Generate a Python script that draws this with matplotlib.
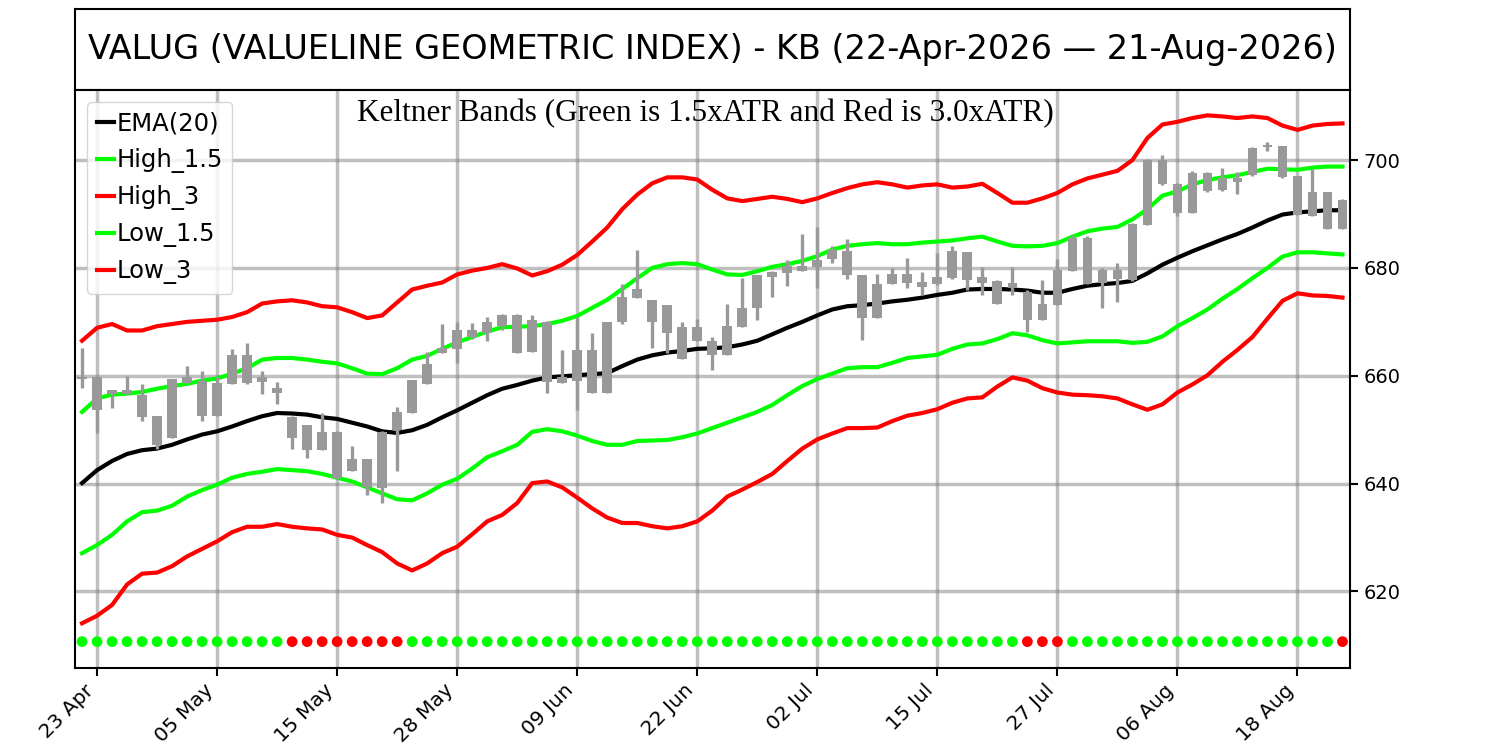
import matplotlib
matplotlib.use("Agg")
import matplotlib.pyplot as plt
import numpy as np
import pandas as pd
from matplotlib.ticker import MultipleLocator

# ---------------- data ----------------
dates = pd.bdate_range("2026-04-22", "2026-08-21", freq="C",
                       holidays=["2026-05-25", "2026-06-19", "2026-07-03"])

ema20 = [640.1, 642.5, 644.2, 645.5, 646.2, 646.5, 647.2, 648.2, 649.1, 649.7,
         650.6, 651.6, 652.5, 653.1, 653.0, 652.8, 652.3, 652.0, 651.3, 650.6,
         649.7, 649.4, 649.9, 650.9, 652.3, 653.6, 655.0, 656.4, 657.6, 658.3,
         659.1, 659.7, 659.9, 660.1, 660.3, 660.5, 661.8, 663.0, 663.8, 664.3,
         664.6, 665.0, 665.1, 665.3, 665.8, 666.5, 667.7, 668.9, 670.0, 671.2,
         672.3, 672.9, 673.1, 673.4, 673.8, 674.1, 674.5, 675.0, 675.4, 676.0,
         676.1, 676.1, 676.0, 675.8, 675.4, 675.4, 676.1, 676.7, 677.0, 677.2,
         677.6, 679.0, 680.6, 681.9, 683.1, 684.2, 685.3, 686.3, 687.5, 688.8,
         689.9, 690.3, 690.5, 690.7, 690.7]

high_15 = [653.3, 655.8, 656.5, 656.7, 657.0, 657.6, 658.1, 658.5, 659.1, 659.5,
           660.4, 661.4, 663.0, 663.3, 663.3, 663.0, 662.6, 662.3, 661.4, 660.4,
           660.3, 661.4, 663.0, 663.7, 665.0, 666.2, 667.2, 668.2, 669.0, 669.1,
           669.2, 669.6, 670.2, 671.1, 672.6, 674.1, 676.1, 678.1, 680.0, 680.7,
           680.9, 680.7, 679.7, 678.8, 678.7, 679.4, 680.2, 680.7, 681.3, 682.2,
           683.4, 684.1, 684.4, 684.6, 684.4, 684.4, 684.7, 684.9, 685.1, 685.5,
           685.8, 684.9, 684.1, 684.0, 684.1, 684.6, 685.8, 686.8, 687.3, 687.6,
           689.0, 690.9, 693.4, 694.2, 695.5, 696.3, 696.8, 697.2, 697.8, 698.4,
           698.3, 698.2, 698.6, 698.8, 698.8]

high_3 = [666.5, 668.9, 669.6, 668.4, 668.4, 669.2, 669.6, 670.0, 670.2, 670.4,
          670.9, 671.8, 673.4, 673.8, 674.0, 673.6, 672.9, 672.7, 671.8, 670.7,
          671.2, 673.6, 676.0, 676.7, 677.3, 678.8, 679.5, 680.0, 680.7, 679.9,
          678.6, 679.4, 680.6, 682.4, 684.9, 687.5, 690.9, 693.6, 695.7, 696.8,
          696.8, 696.4, 694.5, 692.9, 692.4, 692.8, 693.2, 692.8, 692.2, 692.9,
          693.9, 694.8, 695.5, 695.9, 695.5, 694.9, 695.3, 695.5, 694.9, 695.1,
          695.6, 693.9, 692.1, 692.1, 692.9, 693.9, 695.5, 696.6, 697.3, 698.0,
          700.0, 704.1, 706.6, 707.1, 707.8, 708.3, 708.1, 707.8, 708.1, 707.8,
          706.4, 705.6, 706.4, 706.7, 706.8]

low_15 = [627.1, 628.6, 630.5, 633.0, 634.7, 635.0, 635.9, 637.6, 638.8, 639.8,
          641.1, 641.8, 642.2, 642.7, 642.5, 642.3, 641.8, 641.1, 640.4, 639.3,
          638.2, 637.1, 636.9, 638.2, 639.8, 640.9, 642.8, 644.9, 646.0, 647.2,
          649.6, 650.1, 649.7, 648.9, 647.9, 647.2, 647.2, 647.9, 648.0, 648.1,
          648.6, 649.3, 650.3, 651.3, 652.3, 653.3, 654.6, 656.4, 658.1, 659.4,
          660.4, 661.4, 661.6, 661.6, 662.4, 663.3, 663.6, 663.9, 665.0, 665.8,
          666.0, 666.8, 667.9, 667.5, 666.6, 666.0, 666.2, 666.4, 666.4, 666.4,
          666.1, 666.3, 667.3, 669.2, 670.7, 672.3, 674.3, 676.1, 678.1, 680.0,
          682.1, 682.9, 682.9, 682.7, 682.5]

low_3 = [614.1, 615.5, 617.5, 621.3, 623.3, 623.5, 624.7, 626.5, 627.9, 629.3,
         631.0, 632.0, 632.0, 632.5, 632.0, 631.7, 631.5, 630.5, 630.0, 628.6,
         627.3, 625.2, 623.9, 625.2, 627.1, 628.3, 630.6, 633.0, 634.2, 636.4,
         640.1, 640.4, 639.3, 637.4, 635.4, 633.7, 632.7, 632.7, 632.1, 631.7,
         632.1, 633.0, 635.0, 637.6, 638.9, 640.3, 641.8, 644.2, 646.5, 648.2,
         649.3, 650.3, 650.3, 650.4, 651.6, 652.6, 653.1, 653.8, 655.0, 655.8,
         656.0, 658.0, 659.7, 659.1, 657.7, 656.9, 656.5, 656.4, 656.2, 655.8,
         654.7, 653.7, 654.7, 656.9, 658.4, 660.1, 662.6, 664.8, 667.2, 670.6,
         673.9, 675.3, 674.9, 674.8, 674.5]

# candles (one colour, so only the body extent is readable)
candle_high = [665.2, 659.7, 657.4, 659.9, 658.5, 652.6, 659.4, 661.8, 660.8, 659.7,
               665.0, 666.0, 660.8, 658.9, 652.6, 650.9, 653.1, 649.7, 647.0, 644.5,
               649.7, 654.3, 659.2, 664.5, 669.6, 670.0, 669.8, 670.9, 671.4, 671.4,
               671.2, 670.2, 664.8, 670.9, 668.0, 670.0, 677.0, 683.3, 674.1, 673.1,
               670.0, 670.6, 667.2, 673.3, 678.1, 678.6, 679.5, 681.4, 686.3, 687.6,
               684.1, 685.3, 678.7, 678.8, 679.9, 681.9, 679.3, 682.7, 684.1, 682.9,
               680.2, 677.7, 680.2, 676.0, 677.7, 681.6, 686.1, 686.0, 679.9, 680.9,
               688.3, 700.2, 701.0, 695.7, 698.0, 697.8, 698.6, 697.8, 702.5, 703.4,
               702.7, 697.1, 698.3, 694.1, 692.8]
candle_low = [657.7, 649.3, 654.0, 656.7, 651.6, 646.5, 648.4, 658.7, 651.6, 652.6,
              658.5, 658.5, 656.7, 654.7, 646.5, 644.7, 646.3, 640.9, 642.3, 637.8,
              636.4, 642.3, 653.1, 658.5, 664.3, 662.3, 666.8, 666.4, 668.5, 664.3,
              664.5, 656.9, 658.7, 653.7, 656.9, 656.9, 669.6, 674.5, 665.2, 664.3,
              663.1, 666.5, 661.1, 663.8, 669.1, 670.4, 674.6, 676.7, 679.4, 676.3,
              680.9, 677.9, 666.6, 670.7, 677.0, 676.3, 674.9, 676.8, 677.9, 676.0,
              675.0, 673.4, 675.0, 668.2, 670.4, 673.1, 679.5, 677.0, 672.5, 673.6,
              677.5, 688.0, 695.3, 689.6, 690.2, 694.1, 694.2, 693.7, 697.1, 701.7,
              696.6, 689.9, 689.6, 687.3, 687.3]
body_top = [659.8, 659.7, 657.4, 657.4, 656.4, 652.6, 659.4, 659.7, 659.1, 658.7,
            663.8, 663.8, 659.7, 657.7, 652.3, 650.8, 649.6, 649.6, 644.5, 644.5,
            649.6, 653.3, 659.2, 662.1, 665.2, 668.5, 668.5, 669.9, 671.2, 671.2,
            670.4, 669.9, 659.7, 664.8, 664.8, 670.0, 674.6, 676.1, 674.1, 673.1,
            669.1, 669.1, 666.5, 669.2, 672.6, 678.6, 679.2, 680.4, 680.4, 681.4,
            683.4, 683.1, 678.7, 677.0, 678.8, 678.8, 677.3, 678.3, 683.1, 682.9,
            678.3, 677.5, 677.3, 675.6, 673.3, 679.7, 685.5, 685.5, 679.7, 679.7,
            688.1, 700.0, 700.0, 695.5, 697.6, 697.6, 696.6, 696.6, 702.2, 702.7,
            702.7, 697.0, 694.1, 694.1, 692.6]
body_bottom = [659.4, 653.7, 656.7, 656.7, 652.4, 647.2, 648.4, 658.7, 652.6, 652.6,
               658.5, 658.7, 658.9, 656.9, 648.4, 646.3, 646.3, 641.1, 642.3, 639.4,
               639.1, 649.9, 653.1, 658.5, 664.3, 665.0, 667.2, 667.9, 669.2, 664.3,
               664.5, 658.8, 658.7, 659.1, 656.9, 656.9, 669.9, 674.5, 670.0, 668.0,
               663.1, 666.5, 663.8, 663.8, 669.1, 672.5, 678.3, 679.0, 679.5, 680.2,
               681.7, 678.6, 670.7, 670.7, 677.0, 677.2, 676.5, 677.0, 678.1, 677.7,
               677.3, 673.4, 676.3, 670.4, 670.4, 673.1, 679.5, 677.0, 677.2, 678.0,
               677.7, 688.0, 695.5, 690.1, 690.2, 694.2, 694.4, 695.9, 697.3, 702.4,
               696.8, 689.9, 689.6, 687.3, 687.3]

# bottom signal dots: 1 = red, 0 = green
signal_red = [0, 0, 0, 0, 0, 0, 0, 0, 0, 0, 0, 0, 0, 0, 1, 1, 1, 1, 1, 1,
              1, 1, 0, 0, 0, 0, 0, 0, 0, 0, 0, 0, 0, 0, 0, 0, 0, 0, 0, 0,
              0, 0, 0, 0, 0, 0, 0, 0, 0, 0, 0, 0, 0, 0, 0, 0, 0, 0, 0, 0,
              0, 0, 0, 1, 1, 1, 0, 0, 0, 0, 0, 0, 0, 0, 0, 0, 0, 0, 0, 0,
              0, 0, 0, 0, 1]
signal_level = 610.7

title_text = "VALUG (VALUELINE GEOMETRIC INDEX) - KB (22-Apr-2026 \u2014 21-Aug-2026)"
subtitle_text = "Keltner Bands (Green is 1.5xATR and Red is 3.0xATR)"

# ---------------- figure ----------------
LIME = "#00ff00"
RED = "#ff0000"
CANDLE = "#999999"

fig = plt.figure(figsize=(15, 7.5), dpi=100)
ax_t = fig.add_axes([0.05, 0.88, 0.85, 0.108])
ax = fig.add_axes([0.05, 0.11, 0.85, 0.77])

for s in ax_t.spines.values():
    s.set_linewidth(1.5)
ax_t.set_xticks([])
ax_t.set_yticks([])
ax_t.text(0.5, 0.5, title_text, ha="center", va="center",
          fontsize=24.1, family="DejaVu Sans", transform=ax_t.transAxes)

x = np.arange(len(dates))

ax.plot(x, ema20, color="black", lw=3, label="EMA(20)", zorder=2)
ax.plot(x, high_15, color=LIME, lw=3, label="High_1.5", zorder=2)
ax.plot(x, high_3, color=RED, lw=3, label="High_3", zorder=2)
ax.plot(x, low_15, color=LIME, lw=3, label="Low_1.5", zorder=2)
ax.plot(x, low_3, color=RED, lw=3, label="Low_3", zorder=2)

bt = np.array(body_top)
bb = np.array(body_bottom)
ax.vlines(x, candle_low, candle_high, color=CANDLE, lw=2.4, zorder=3)
ax.bar(x, np.maximum(bt - bb, 0.35), bottom=bb, width=0.65, color=CANDLE,
       zorder=3, linewidth=0)

dot_colors = [RED if r else LIME for r in signal_red]
ax.scatter(x, [signal_level] * len(x), c=dot_colors, s=60, zorder=3,
           linewidths=0)

ax.set_xlim(-0.47, len(x) - 0.5)
ax.set_ylim(605.9, 713.0)

tick_idx = list(range(1, len(x), 8))
ax.set_xticks(tick_idx)
ax.set_xticklabels([dates[i].strftime("%d %b") for i in tick_idx],
                   rotation=45, ha="right", fontsize=14.5)
ax.yaxis.tick_right()
ax.yaxis.set_major_locator(MultipleLocator(20))
ax.tick_params(axis="y", labelsize=14, length=6, width=1.5)
ax.tick_params(axis="x", length=6, width=1.5)
for s in ax.spines.values():
    s.set_linewidth(1.5)

ax.grid(True, color="#808080", alpha=0.5, lw=2.5, zorder=0)
ax.set_axisbelow(True)

ax.text(0.4945, 0.959, subtitle_text, ha="center", va="center",
        fontsize=22.5, family="Liberation Serif", transform=ax.transAxes)

leg = ax.legend(loc="upper left", fontsize=17.5, handlelength=0.7,
                handletextpad=0.1, labelspacing=0.5, borderpad=0.4)
leg.set_zorder(5)

fig.savefig("out.png", dpi=100)
